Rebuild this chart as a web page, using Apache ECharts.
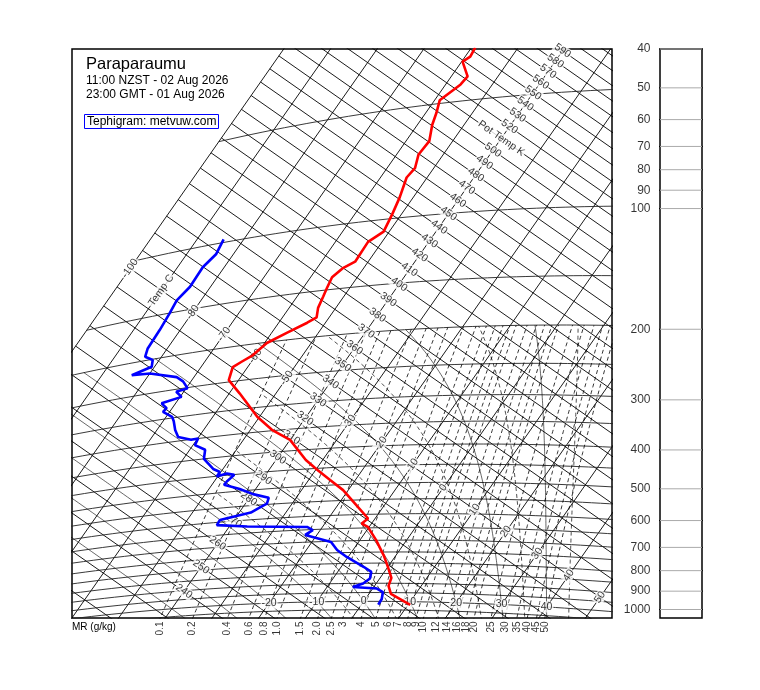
<!DOCTYPE html>
<html>
<head>
<meta charset="utf-8">
<script src="https://cdn.jsdelivr.net/npm/echarts@6/dist/echarts.min.js"></script>
<style>
html, body { margin: 0; padding: 0; background: #fff; }
#main { width: 760px; height: 690px; }
</style>
</head>
<body>
<div id="main"></div>
<script>
// sounding: pressure (hPa) and temperature (C)
var tempPres = [1019, 957, 914, 872, 818, 767, 698, 646, 633, 615, 554, 517, 485, 454, 426, 374, 348, 318, 271, 247,
  228, 222, 215, 201, 191, 182, 177, 167, 156, 148, 139, 132, 128, 114, 108, 97, 88, 78, 74, 68, 63, 57, 53, 49, 45, 43, 39, 38, 36];
var tempVals = [10.5, 4.7, 3.0, 2.4, 0.0, -2.5, -6.6, -10.3, -12.1, -11.5, -17.3, -21.1, -25.4, -29.7, -33.6, -40.0, -45.4, -50.5, -57.8, -62.1,
  -63.2, -62.1, -60.7, -59.5, -56.7, -53.9, -52.7, -53.8, -54.4, -54.9, -55.4, -54.4, -52.8, -53.0, -51.2, -52.0, -52.9, -54.4, -54.0, -55.3,
  -55.0, -56.8, -57.7, -58.9, -56.8, -56.5, -59.8, -58.9, -59.2];
var dewPres = [1019, 986, 947, 928, 919, 901, 875, 842, 818, 770, 738, 703, 670, 652, 639, 624, 610, 592, 574, 562,
  547, 528, 513, 494, 477, 468, 451, 445, 451, 439, 429, 400, 378, 364, 350, 351, 341, 325, 307, 298,
  286, 280, 270, 264, 254, 251, 239, 231, 219, 217, 210, 201, 195, 185, 166, 150, 139, 129, 115, 107, 98];
var dewVals = [3.6, 3.5, 2.7, 0.9, -4.5, -2.8, -2.1, -2.8, -5.1, -10.3, -13.4, -15.9, -22.5, -21.6, -23.3, -36.2, -42.9, -43.0, -37.5, -36.6,
  -35.4, -35.9, -39.8, -43.4, -47.4, -47.3, -46.7, -48.5, -50.2, -50.2, -52.1, -55.6, -56.7, -59.6, -59.9, -61.2, -64.4, -66.1, -67.7, -68.7,
  -71.4, -71.2, -73.0, -69.7, -71.6, -69.7, -71.7, -73.7, -80.0, -83.6, -80.6, -81.4, -83.5, -84.2, -84.4, -84.8, -85.2, -84.4, -84.6, -83.7, -84.3];

// background diagram
var isotherms = [-100, -90, -80, -70, -60, -50, -40, -30, -20, -10, 0, 10, 20, 30, 40, 50];
var adiabats = [];
for (var a = 220; a <= 620; a += 10) adiabats.push(a);
var isobars = [50, 100, 150, 200, 250, 300, 350, 400, 450, 500, 550, 600, 650, 700, 750, 800, 850, 900, 950, 1000, 1050];
var mixRatios = [0.1, 0.2, 0.4, 0.6, 0.8, 1.0, 1.5, 2.0, 2.5, 3, 4, 5, 6, 7, 8, 9, 10, 12, 14, 16, 18, 20, 25, 30, 35, 40, 45, 50];
var satAdiabats = [-40, -30, -20, -10, 0, 10, 20, 30, 40];
var satAdiabatsMinor = [-5, 5, 15, 25, 35, 45];
var thetaLabels = [];
for (var b = 240; b <= 590; b += 10) thetaLabels.push(b);
var tempLabels = [-100, -90, -80, -70, -60, -50, -30, -20, -10, 0, 10, 20, 30, 40, 50];
var surfLabels = [-20, -10, 0, 10, 20, 30, 40];
var panelLevels = [40, 50, 60, 70, 80, 90, 100, 200, 300, 400, 500, 600, 700, 800, 900, 1000];

var FONT = 'Liberation Sans, Arial, sans-serif';

// tephigram projection: T (C) and ln(theta) onto the plot box
function projTh(t, th) {
  var s = Math.log(th / 330);
  return [246 + 3.133 * (t + 40) + 421 * s, 351 + 2.193 * (t + 40) - 601 * s];
}
function proj(t, p) {
  return projTh(t, (t + 273.15) * Math.pow(1000 / p, 0.2857));
}
function mrTemp(w, p) {
  var l = Math.log(w * p / (622 + w) / 6.112);
  return 243.5 * l / (17.67 - l);
}
function satRate(T, p) {
  var es = 6.112 * Math.exp(17.67 * (T - 273.15) / (T - 29.65));
  var rs = 0.622 * es / (p - es);
  return (287.04 * T + 2.501e6 * rs) / (1005.7 + 2.501e6 * 2.501e6 * rs * 0.622 / (287.04 * T * T)) / p;
}
function satPath(tw, pEnd, dp) {
  var T = tw + 273.15, p = 1000, out = [[T, p]];
  while ((dp < 0 && p > pEnd) || (dp > 0 && p < pEnd)) {
    var k1 = satRate(T, p), k2 = satRate(T + 0.5 * dp * k1, p + 0.5 * dp);
    var k3 = satRate(T + 0.5 * dp * k2, p + 0.5 * dp), k4 = satRate(T + dp * k3, p + dp);
    T += dp * (k1 + 2 * k2 + 2 * k3 + k4) / 6;
    p += dp;
    out.push([T, p]);
  }
  return out;
}
function satLine(tw, moistOnly) {
  var path = satPath(tw, 1150, 5).reverse().concat(satPath(tw, 200, -5).slice(1));
  if (moistOnly) {
    // dashed ones stop where the air holds less than the driest mixing-ratio line
    path = path.filter(function (d) { return d[0] - 273.15 >= mrTemp(mixRatios[0], d[1]); });
  }
  return path.map(function (d) { return proj(d[0] - 273.15, d[1]); });
}

var series = [];
function addLine(pts, color, width, type) {
  series.push({
    type: 'line', data: pts, showSymbol: false, symbol: 'none', silent: true, clip: true, z: 2,
    lineStyle: { color: color, width: width, type: type || 'solid' }
  });
}

isotherms.forEach(function (t) {
  addLine([proj(t, 1400), proj(t, 10)], '#000', 0.9);
});
adiabats.forEach(function (th) {
  addLine([projTh(-100, th), projTh(100, th)], '#000', 0.9);
});
isobars.forEach(function (p) {
  var pts = [];
  for (var t = -100; t <= 80; t += 2) pts.push(proj(t, p));
  addLine(pts, '#222', 0.9);
});
var mrLabelData = [];
mixRatios.forEach(function (w) {
  var pts = [], prev = null;
  for (var p = 1300; p >= 200; p -= 5) {
    var pt = proj(mrTemp(w, p), p);
    if (prev && prev[1] > 569 && pt[1] <= 569) {
      var f = (prev[1] - 569) / (prev[1] - pt[1]);
      mrLabelData.push({ value: [prev[0] + f * (pt[0] - prev[0]), 569], name: w.toFixed(w < 3 ? 1 : 0) });
    }
    pts.push(pt);
    prev = pt;
  }
  addLine(pts, '#000', 0.8, [4, 3]);
});
satAdiabats.forEach(function (tw) {
  addLine(satLine(tw, false), '#000', 0.6);
});
satAdiabatsMinor.forEach(function (tw) {
  addLine(satLine(tw, true), '#000', 0.7, [4, 3]);
});

function addLabels(items, rotate) {
  series.push({
    type: 'scatter', data: items, symbolSize: 1, silent: true, clip: false, z: 3,
    itemStyle: { color: 'rgba(0,0,0,0)' },
    label: {
      show: true, position: 'inside', formatter: '{b}', rotate: rotate, color: '#000',
      fontSize: 10.5, fontFamily: FONT, backgroundColor: '#fff', padding: [0, 1]
    }
  });
}
addLabels(thetaLabels.map(function (th) {
  return { value: projTh(-40, th), name: th === 510 ? 'Pot Temp K' : String(th) };
}), -35);
addLabels(tempLabels.map(function (t) {
  return { value: projTh(t, 330), name: t === -90 ? 'Temp C' : String(t) };
}), 55);
addLabels(surfLabels.map(function (t) {
  return { value: proj(t, 1000), name: String(t) };
}), 0);

series.push({
  type: 'scatter', data: mrLabelData, symbolSize: 1, silent: true, clip: false, z: 3,
  itemStyle: { color: 'rgba(0,0,0,0)' },
  label: {
    show: true, position: [0.5, 4], formatter: '{b}', rotate: 90, align: 'right', verticalAlign: 'middle',
    color: '#000', fontSize: 10, fontFamily: FONT
  }
});

// soundings
series.push({
  type: 'line', data: tempPres.map(function (p, i) { return proj(tempVals[i], p); }),
  showSymbol: false, symbol: 'none', silent: true, clip: true, z: 5,
  lineStyle: { color: '#ff0000', width: 2.6 }
});
series.push({
  type: 'line', data: dewPres.map(function (p, i) { return proj(dewVals[i], p); }),
  showSymbol: false, symbol: 'none', silent: true, clip: true, z: 5,
  lineStyle: { color: '#0000ff', width: 2.6 }
});

// pressure panel
panelLevels.forEach(function (p) {
  series.push({
    type: 'line', xAxisIndex: 1, yAxisIndex: 1, data: [[0, p], [1, p]], showSymbol: false, symbol: 'none',
    silent: true, clip: false, lineStyle: { color: '#aaa', width: 1 }
  });
  series.push({
    type: 'line', xAxisIndex: 1, yAxisIndex: 1, data: [[-0.143, p], [0, p]], showSymbol: false, symbol: 'none',
    silent: true, clip: false, lineStyle: { color: '#000', width: 1 }
  });
  series.push({
    type: 'line', xAxisIndex: 1, yAxisIndex: 1, data: [[1, p], [1.12, p]], showSymbol: false, symbol: 'none',
    silent: true, clip: false, lineStyle: { color: '#000', width: 1 }
  });
});
series.push({
  type: 'scatter', xAxisIndex: 1, yAxisIndex: 1, symbolSize: 1, silent: true, clip: false,
  itemStyle: { color: 'rgba(0,0,0,0)' },
  data: panelLevels.map(function (p) { return { value: [-0.143, p], name: String(p) }; }),
  label: { show: true, position: 'left', distance: 3, formatter: '{b}', color: '#000', fontSize: 12, fontFamily: FONT }
});

var chart = echarts.init(document.getElementById('main'));
chart.setOption({
  animation: false,
  backgroundColor: '#fff',
  textStyle: { fontFamily: FONT },
  grid: [
    { left: 72, top: 49, width: 540, height: 569, show: true, borderColor: '#000', borderWidth: 1.5, backgroundColor: '#fff', outerBoundsMode: 'none' },
    { left: 660, top: 49, width: 42, height: 569, show: true, borderColor: '#000', borderWidth: 1.5, backgroundColor: '#fff', outerBoundsMode: 'none' }
  ],
  xAxis: [
    { type: 'value', gridIndex: 0, min: 0, max: 540, show: false },
    { type: 'value', gridIndex: 1, min: 0, max: 1, show: false }
  ],
  yAxis: [
    { type: 'value', gridIndex: 0, min: 0, max: 569, inverse: true, show: false },
    { type: 'log', gridIndex: 1, min: 40, max: 1050, inverse: true, show: false }
  ],
  graphic: [
    { type: 'text', x: 86, y: 64, z: 10, style: { text: 'Paraparaumu', fontSize: 16.5, fontFamily: FONT, fill: '#000', verticalAlign: 'middle' } },
    { type: 'text', x: 86, y: 81, z: 10, style: { text: '11:00 NZST - 02 Aug 2026', fontSize: 12, fontFamily: FONT, fill: '#000', verticalAlign: 'middle' } },
    { type: 'text', x: 86, y: 95, z: 10, style: { text: '23:00 GMT - 01 Aug 2026', fontSize: 12, fontFamily: FONT, fill: '#000', verticalAlign: 'middle' } },
    { type: 'rect', z: 10, shape: { x: 84.5, y: 114.5, width: 134, height: 14 }, style: { fill: '#fff', stroke: '#0000ff', lineWidth: 1 } },
    { type: 'text', x: 87, y: 121.5, z: 11, style: { text: 'Tephigram: metvuw.com', fontSize: 12, fontFamily: FONT, fill: '#000', verticalAlign: 'middle' } },
    { type: 'text', x: 72, y: 627, z: 10, style: { text: 'MR (g/kg)', fontSize: 10, fontFamily: FONT, fill: '#000', verticalAlign: 'middle' } }
  ],
  series: series
});
</script>
</body>
</html>
